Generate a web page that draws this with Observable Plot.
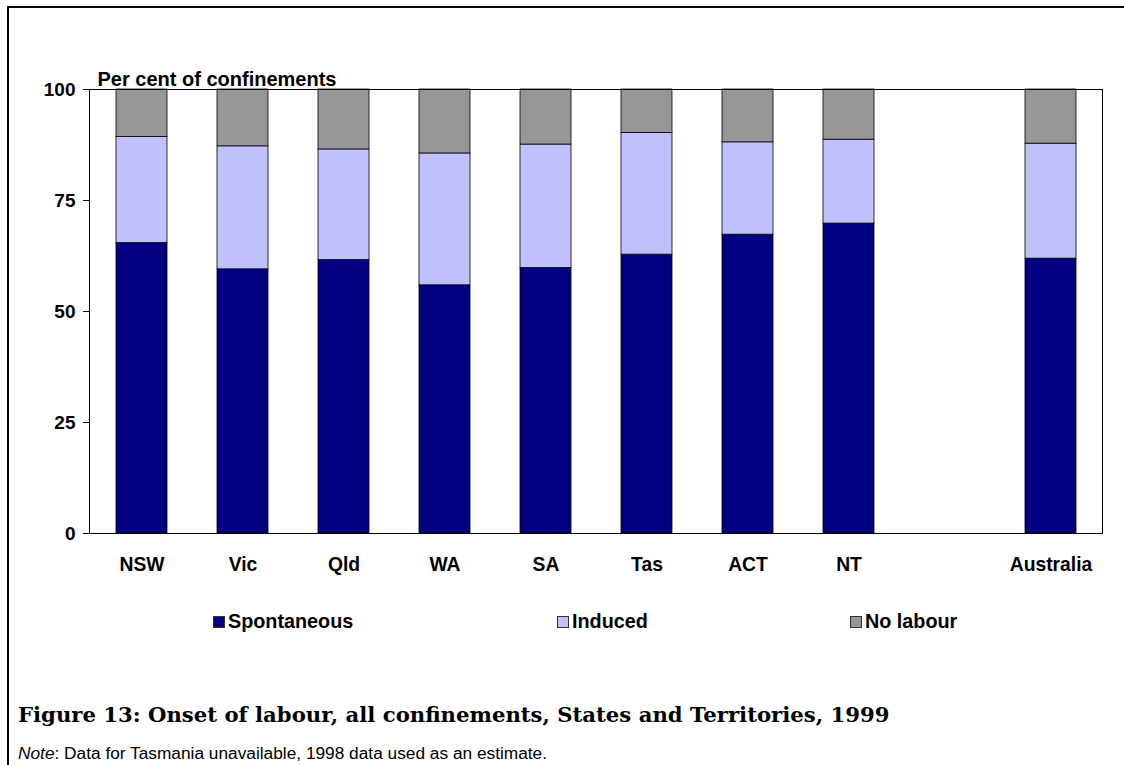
<!DOCTYPE html>
<html>
<head>
<meta charset="utf-8">
<script src="https://cdn.jsdelivr.net/npm/d3@7"></script>
<script src="https://cdn.jsdelivr.net/npm/@observablehq/plot@0.6"></script>
<style>
  html, body { margin: 0; padding: 0; background: #fff; }
  body { width: 1124px; height: 765px; position: relative; overflow: hidden; font-family: "Liberation Sans", Arial, sans-serif; }
  #lineTop { position: absolute; left: 7px; top: 6px; width: 1117px; height: 2px; background: #000; }
  #lineLeft { position: absolute; left: 7px; top: 6px; width: 2px; height: 759px; background: #000; }
  #chart { position: absolute; left: 0; top: 0; }
  #legend { position: absolute; top: 610px; left: 0; width: 1124px; height: 24px; font-weight: bold; font-size: 19.8px; }
  .item { position: absolute; top: 0; display: flex; align-items: center; }
  .sw { width: 12px; height: 12px; border: 1px solid #333; box-sizing: border-box; margin-right: 3px; }
  #title { position: absolute; left: 18px; top: 702px; font-family: "DejaVu Serif", Georgia, serif; font-weight: bold; font-size: 21.2px; white-space: nowrap; }
  #note { position: absolute; left: 18px; top: 743px; font-size: 17.3px; white-space: nowrap; }
</style>
</head>
<body>
<div id="lineTop"></div>
<div id="lineLeft"></div>
<div id="chart"></div>
<div id="legend"></div>
<div id="title">Figure 13: Onset of labour, all confinements, States and Territories, 1999</div>
<div id="note"><i>Note</i>: Data for Tasmania unavailable, 1998 data used as an estimate.</div>
<script>
const categories = ["NSW", "Vic", "Qld", "WA", "SA", "Tas", "ACT", "NT", " ", "Australia"];
const regions = ["NSW", "Vic", "Qld", "WA", "SA", "Tas", "ACT", "NT", "Australia"];
const spontaneous = [65.4, 59.5, 61.6, 55.9, 59.8, 62.8, 67.3, 69.8, 61.9];
const induced     = [23.9, 27.7, 24.9, 29.7, 27.8, 27.4, 20.8, 18.9, 25.9];
const noLabour    = [10.7, 12.8, 13.5, 14.4, 12.4,  9.8, 11.9, 11.3, 12.2];
const seriesNames = ["Spontaneous", "Induced", "No labour"];
const seriesColors = ["#000080", "#C0C0FF", "#969696"];
const yTicks = [0, 25, 50, 75, 100];

const seriesValues = [spontaneous, induced, noLabour];
const data = [];
regions.forEach((r, i) => {
  seriesNames.forEach((s, j) => data.push({ region: r, series: s, value: seriesValues[j][i] }));
});

const chart = Plot.plot({
  width: 1124,
  height: 600,
  marginLeft: 89,
  marginRight: 22,
  marginTop: 89,
  marginBottom: 67,
  style: { fontFamily: "Liberation Sans, Arial, sans-serif", fontSize: "19px", fontWeight: "bold", color: "#000", background: "transparent" },
  x: { domain: categories, paddingInner: 0.5, paddingOuter: 0.25, label: null },
  y: { domain: [0, 100], label: null },
  color: { domain: seriesNames, range: seriesColors },
  marks: [
    Plot.barY(data, Plot.stackY({ order: seriesNames }, { x: "region", y: "value", fill: "series", stroke: "#000", strokeWidth: 0.8 })),
    Plot.frame({ stroke: "#000", strokeWidth: 1 }),
    Plot.axisY({ ticks: yTicks, tickSize: 6, tickPadding: 8, stroke: "#000", fontSize: 19, fontWeight: "bold", label: null }),
    Plot.axisX({ tickSize: 0, tickPadding: 24, fontSize: 19.3, fontWeight: "bold", label: null }),
    Plot.text(["Per cent of confinements"], { frameAnchor: "top-left", dx: 8, dy: -18, fontSize: 20, fontWeight: "bold", textAnchor: "start" })
  ]
});
document.getElementById("chart").appendChild(chart);

const legend = document.getElementById("legend");
const legendX = [213, 557, 850];
seriesNames.forEach((s, i) => {
  const it = document.createElement("div");
  it.className = "item";
  it.style.left = legendX[i] + "px";
  const sw = document.createElement("span");
  sw.className = "sw";
  sw.style.background = seriesColors[i];
  const t = document.createElement("span");
  t.textContent = s;
  it.appendChild(sw); it.appendChild(t);
  legend.appendChild(it);
});
</script>
</body>
</html>
